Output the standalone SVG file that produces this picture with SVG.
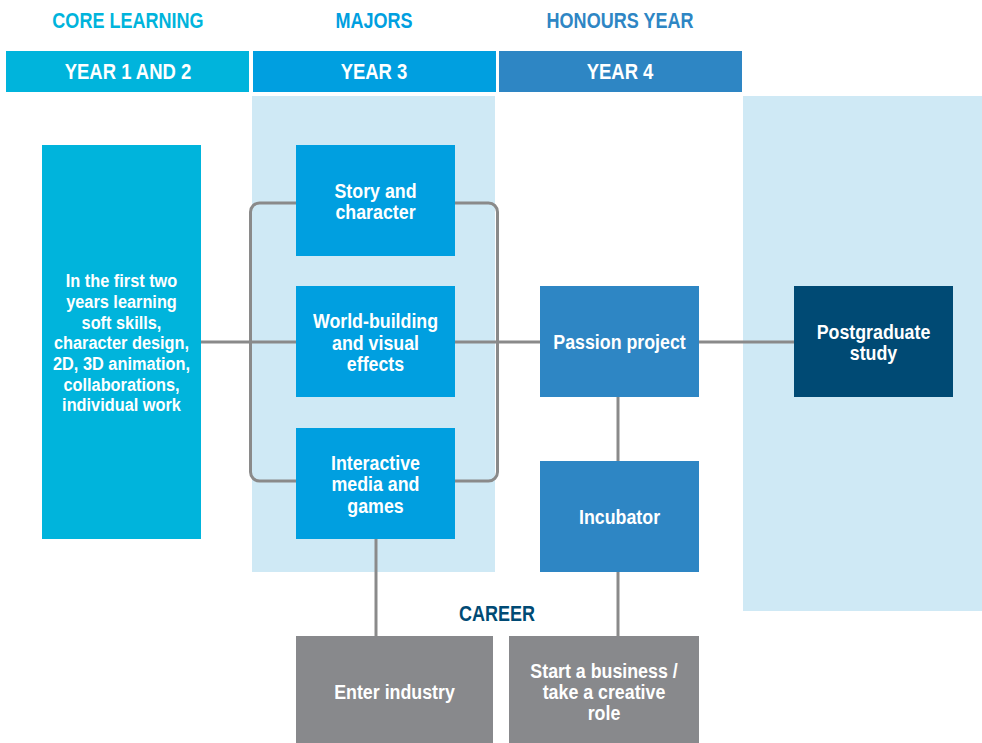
<svg xmlns="http://www.w3.org/2000/svg" width="982" height="743" viewBox="0 0 982 743">
<style>
text{font-family:"Liberation Sans",Arial,sans-serif;font-weight:bold;text-anchor:middle;transform-box:fill-box;transform-origin:center}
.h{font-size:22px;transform:scaleX(0.82)}
.y{font-size:22px;fill:#fff;transform:scaleX(0.84)}
.t{font-size:20px;fill:#fff;transform:scaleX(0.89)}
.s{font-size:19px;fill:#fff;transform:scaleX(0.86)}
.bg{fill:#cfe9f5}
.c1{fill:#00b4dc}
.c2{fill:#009fe0}
.c3{fill:#2e86c4}
.c4{fill:#004a74}
.g{fill:#88898c}
.ln{stroke:#8a8a8a;stroke-width:3;fill:none}
</style>
<rect class="bg" x="252" y="96" width="243" height="476"/>
<rect class="bg" x="743" y="96" width="239" height="515"/>
<g id="headers">
<text class="h" x="128" y="28" fill="#00b4dc">CORE LEARNING</text>
<text class="h" x="374" y="28" fill="#009fe0">MAJORS</text>
<text class="h" x="620" y="28" fill="#2e86c4">HONOURS YEAR</text>
<rect class="c1" x="6" y="51" width="243" height="41"/>
<text class="y" x="128" y="79">YEAR 1 AND 2</text>
<rect class="c2" x="253" y="51" width="243" height="41"/>
<text class="y" x="374" y="79">YEAR 3</text>
<rect class="c3" x="499" y="51" width="243" height="41"/>
<text class="y" x="620" y="79">YEAR 4</text>
</g>
<g id="connectors">
<rect class="ln" x="250.5" y="203" width="247" height="278" rx="9"/>
<line class="ln" x1="201" y1="342" x2="540" y2="342"/>
<line class="ln" x1="699" y1="342" x2="794" y2="342"/>
<line class="ln" x1="618" y1="397" x2="618" y2="461"/>
<line class="ln" x1="618" y1="572" x2="618" y2="636"/>
<line class="ln" x1="376" y1="539" x2="376" y2="636"/>
</g>
<g id="core">
<rect class="c1" x="42" y="145" width="159" height="394"/>
<text class="s" x="121.5" y="287">In the first two</text>
<text class="s" x="121.5" y="308">years learning</text>
<text class="s" x="121.5" y="329">soft skills,</text>
<text class="s" x="121.5" y="349">character design,</text>
<text class="s" x="121.5" y="370">2D, 3D animation,</text>
<text class="s" x="121.5" y="391">collaborations,</text>
<text class="s" x="121.5" y="411">individual work</text>
</g>
<g id="story">
<rect class="c2" x="296" y="145" width="159" height="111"/>
<text class="t" x="375.5" y="198">Story and</text>
<text class="t" x="375.5" y="219">character</text>
</g>
<g id="world">
<rect class="c2" x="296" y="286" width="159" height="111"/>
<text class="t" x="375.5" y="328">World-building</text>
<text class="t" x="375.5" y="350">and visual</text>
<text class="t" x="375.5" y="371">effects</text>
</g>
<g id="interactive">
<rect class="c2" x="296" y="428" width="159" height="111"/>
<text class="t" x="375.5" y="470">Interactive</text>
<text class="t" x="375.5" y="491">media and</text>
<text class="t" x="375.5" y="513">games</text>
</g>
<g id="passion">
<rect class="c3" x="540" y="286" width="159" height="111"/>
<text class="t" x="619.5" y="349">Passion project</text>
</g>
<g id="incubator">
<rect class="c3" x="540" y="461" width="159" height="111"/>
<text class="t" x="619.5" y="524">Incubator</text>
</g>
<g id="postgrad">
<rect class="c4" x="794" y="286" width="159" height="111"/>
<text class="t" x="873.5" y="339">Postgraduate</text>
<text class="t" x="873.5" y="360">study</text>
</g>
<g id="career-label">
<text class="h" x="497" y="621" fill="#004a74">CAREER</text>
</g>
<g id="industry">
<rect class="g" x="296" y="636" width="197" height="107"/>
<text class="t" x="394.5" y="699">Enter industry</text>
</g>
<g id="business">
<rect class="g" x="509" y="636" width="190" height="107"/>
<text class="t" x="604" y="678">Start a business /</text>
<text class="t" x="604" y="699">take a creative</text>
<text class="t" x="604" y="720">role</text>
</g>
</svg>
